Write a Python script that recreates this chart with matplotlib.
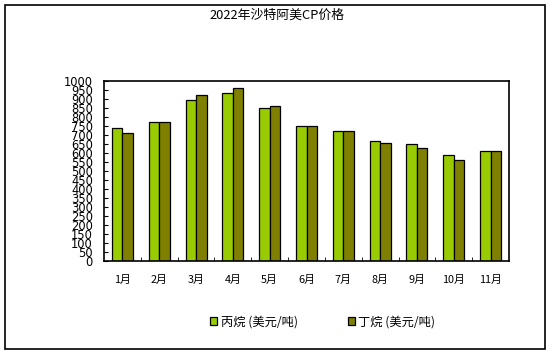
import matplotlib.pyplot as plt
import numpy as np
from matplotlib.patches import Rectangle

plt.rcParams['font.family'] = ['Noto Sans CJK SC', 'DejaVu Sans']

# data
months = ['1月', '2月', '3月', '4月', '5月', '6月', '7月', '8月', '9月', '10月', '11月']
propane = [740, 775, 895, 935, 850, 750, 725, 665, 650, 590, 610]
butane = [710, 775, 920, 960, 860, 750, 725, 655, 630, 560, 610]
yticks = np.arange(0, 1001, 50)

fig = plt.figure(figsize=(5.54, 3.56), dpi=100)
ax = fig.add_axes([104/554, 95/356, 405/554, 180/356])

x = np.arange(len(months))
w = 0.285
ax.bar(x - w/2, propane, w, color='#99CC00', edgecolor='black', linewidth=0.9,
       label='丙烷 (美元/吨)')
ax.bar(x + w/2, butane, w, color='#808000', edgecolor='black', linewidth=0.9,
       label='丁烷 (美元/吨)')

ax.set_xlim(-0.5, len(months) - 0.5)
ax.set_ylim(0, 1000)
ax.set_yticks(yticks)
# labels are packed tight, as in the original
ax.set_yticklabels([str(v) for v in yticks], fontsize=8.3, family='DejaVu Sans')
ax.set_xticks(x)
ax.set_xticklabels(months, fontsize=7.8)
ax.set_xticks(np.arange(0.5, len(months) - 1, 1), minor=True)
ax.tick_params(axis='x', which='major', length=0, pad=10)
ax.tick_params(axis='x', which='minor', direction='in', length=3)
ax.tick_params(axis='y', direction='in', length=3, pad=8)
for s in ax.spines.values():
    s.set_linewidth(1.2)

fig.text(0.5, 1 - 15/356, '2022年沙特阿美CP价格', ha='center', va='center', fontsize=9.3)

leg = fig.legend(loc='center left', bbox_to_anchor=(210/554, 1 - 322/356), ncol=2,
                 frameon=False, fontsize=8.8, handlelength=0.6, handleheight=0.6,
                 columnspacing=4.05, handletextpad=0.3, borderaxespad=0, borderpad=0)

fig.patches.append(Rectangle((5/554, 1 - 349/356), 540/554, 344/356,
                             transform=fig.transFigure, fill=False,
                             edgecolor='black', linewidth=1.2))

fig.savefig('out.png', dpi=100)
